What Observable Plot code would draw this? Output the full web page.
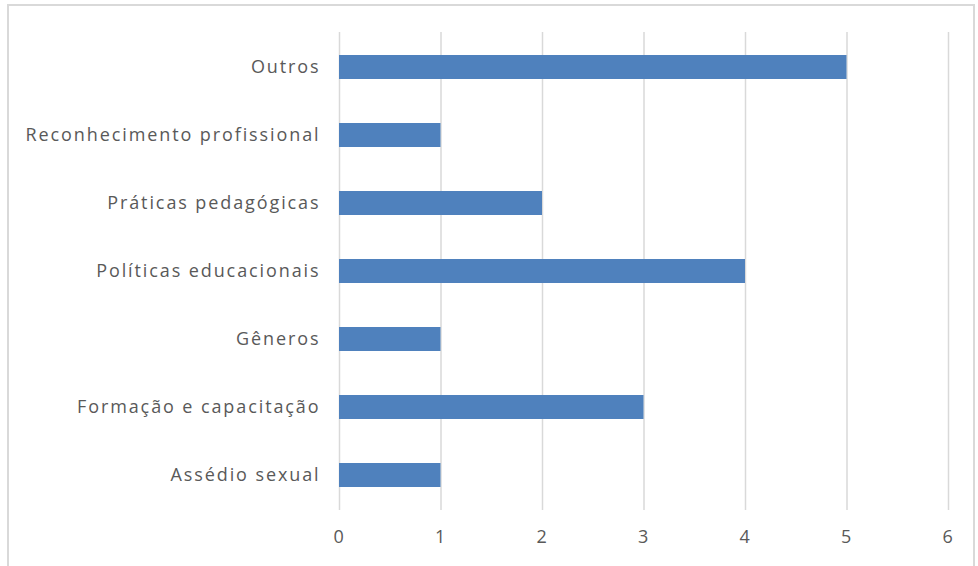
<!DOCTYPE html>
<html><head><meta charset="utf-8">
<script src="https://cdn.jsdelivr.net/npm/d3@7"></script>
<script src="https://cdn.jsdelivr.net/npm/@observablehq/plot@0.6"></script>
<style>
body{margin:0;background:#fff;}
#frame{position:absolute;left:7px;top:4px;width:968px;height:600px;border:2px solid #d9d9d9;border-bottom:none;box-sizing:border-box;}
#chart{position:absolute;left:0;top:0;}
svg text{fill:#595959;letter-spacing:1.9px;}
</style></head>
<body>
<div id="frame"></div>
<div id="chart"></div>
<script>
const categories = ["Outros","Reconhecimento profissional","Práticas pedagógicas","Políticas educacionais","Gêneros","Formação e capacitação","Assédio sexual"];
const values = [5,1,2,4,1,3,1];
const xTicks = [0,1,2,3,4,5,6];
const data = categories.map((c,i)=>({category:c,value:values[i]}));
const chart = Plot.plot({
  width: 978, height: 566,
  marginLeft: 339, marginRight: 30, marginTop: 32, marginBottom: 56,
  style: {fontFamily: "'Open Sans', sans-serif", fontSize: "18px", fontWeight: 400, background: "transparent", color: "#595959"},
  x: {domain: [0,6], ticks: xTicks, label: null},
  y: {domain: categories, paddingInner: 0.65, paddingOuter: 0.325, label: null},
  marks: [
    Plot.gridX(xTicks, {stroke: "#d9d9d9", strokeOpacity: 1, strokeWidth: 1.5}),
    Plot.barX(data, {x: "value", y: "category", fill: "#4f81bd"}),
    Plot.axisX({ticks: xTicks, tickFormat: "d", tickSize: 0, tickPadding: 20, fontSize: 18, label: null}),
    Plot.axisY({tickSize: 0, tickPadding: 19, fontSize: 18, label: null})
  ]
});
document.getElementById("chart").appendChild(chart);
</script>
</body></html>
